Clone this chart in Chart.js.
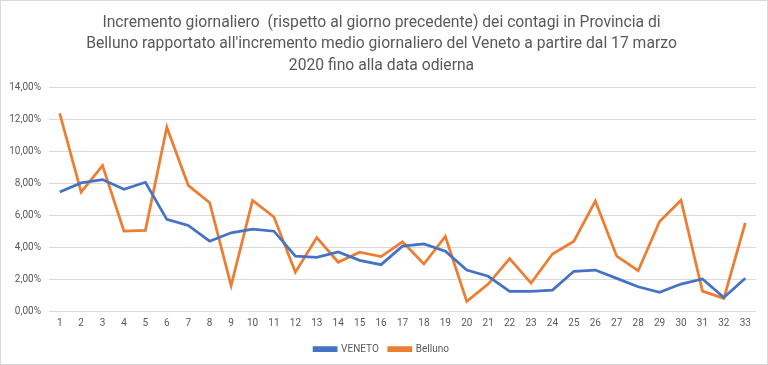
<!DOCTYPE html>
<html>
<head>
<meta charset="utf-8">
<script src="https://cdn.jsdelivr.net/npm/chart.js@4.4.1/dist/chart.umd.min.js"></script>
<style>
  html, body { margin: 0; padding: 0; background: #fff; }
  #wrap { position: relative; width: 766px; height: 363px; border: 1px solid #d9d9d9; }
</style>
</head>
<body>
<div id="wrap"><canvas id="chart" width="766" height="363"></canvas></div>
<script>
// Days since 17 March 2020
const days = ['1','2','3','4','5','6','7','8','9','10','11','12','13','14','15','16','17','18','19','20','21','22','23','24','25','26','27','28','29','30','31','32','33'];

// Daily increment (%) - Veneto average
const veneto = [7.47, 8.04, 8.25, 7.64, 8.08, 5.75, 5.37, 4.38, 4.91, 5.14, 5.01, 3.44, 3.37, 3.71, 3.18, 2.91, 4.07, 4.21, 3.75, 2.57, 2.18, 1.23, 1.23, 1.31, 2.49, 2.57, 2.05, 1.52, 1.17, 1.69, 2.01, 0.85, 2.05];

// Daily increment (%) - Provincia di Belluno
const belluno = [12.41, 7.47, 9.13, 5.01, 5.06, 11.53, 7.89, 6.80, 1.59, 6.95, 5.90, 2.43, 4.61, 3.06, 3.69, 3.42, 4.34, 2.95, 4.68, 0.60, 1.69, 3.29, 1.75, 3.58, 4.38, 6.90, 3.44, 2.53, 5.62, 6.95, 1.25, 0.79, 5.54];

const titleLines = [
    "Incremento giornaliero  (rispetto al giorno precedente) dei contagi in Provincia di",
    "Belluno rapportato all'incremento medio giornaliero del Veneto a partire dal 17 marzo",
    "2020 fino alla data odierna"
];

const font = "'Roboto', sans-serif";
const grey = '#595959';

let ctx = document.getElementById('chart').getContext('2d');
let myChart = new Chart(ctx, {
    type: 'line',
    data: {
        labels: days,
        datasets: [{
            label: 'VENETO',
            data: veneto,
            borderColor: '#4472C4',
            backgroundColor: '#4472C4',
            borderWidth: 2.75,
            pointRadius: 0,
            tension: 0
        }, {
            label: 'Belluno',
            data: belluno,
            borderColor: '#ED7D31',
            backgroundColor: '#ED7D31',
            borderWidth: 2.75,
            pointRadius: 0,
            tension: 0
        }]
    },
    options: {
        responsive: false,
        animation: false,
        layout: { padding: { left: 6, right: 11, top: 11, bottom: 0 } },
        plugins: {
            title: {
                display: true,
                text: titleLines,
                color: grey,
                font: { family: font, size: 15.7, weight: 'normal', lineHeight: 1.38 },
                padding: { top: 0, bottom: 11 }
            },
            legend: {
                position: 'bottom',
                labels: {
                    color: grey,
                    font: { family: font, size: 10 },
                    boxWidth: 22,
                    boxHeight: 3,
                    padding: 10
                }
            },
            tooltip: { enabled: false }
        },
        scales: {
            x: {
                offset: true,
                grid: { display: false },
                border: { display: false },
                ticks: { color: grey, padding: -2, font: { family: font, size: 10 }, maxRotation: 0, autoSkip: false },
                afterFit: scale => { scale.height += 7; }
            },
            y: {
                min: 0,
                max: 14,
                grid: { color: '#d9d9d9', drawTicks: false },
                border: { display: false },
                ticks: {
                    stepSize: 2,
                    padding: 8,
                    color: grey,
                    font: { family: font, size: 10 },
                    callback: v => v.toFixed(2).replace('.', ',') + '%'
                },
                afterFit: scale => { scale.width = 42; }
            }
        }
    }
});
</script>
</body>
</html>
